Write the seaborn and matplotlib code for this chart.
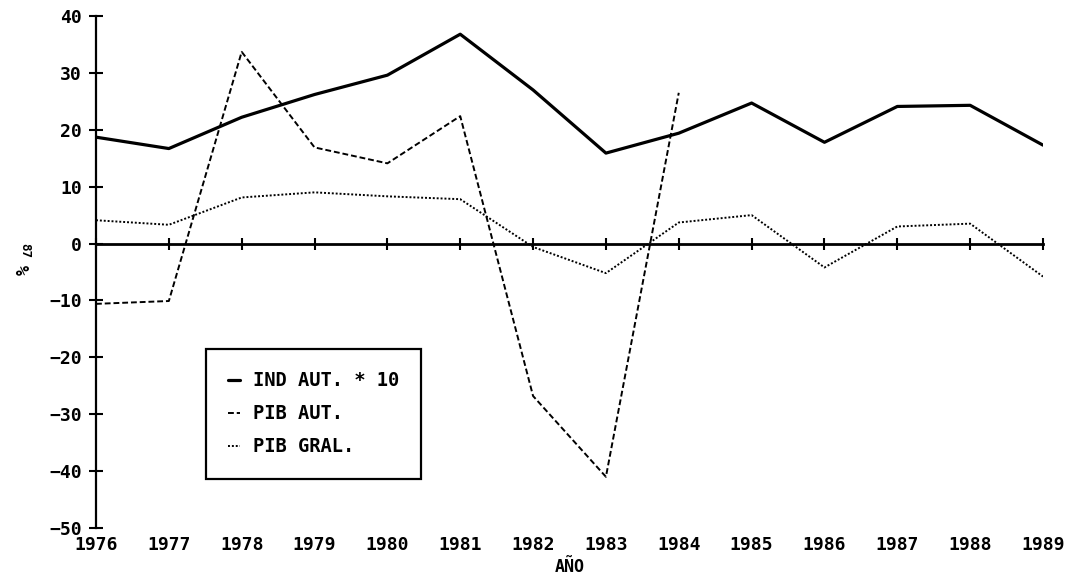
import pandas as pd
import matplotlib.pyplot as plt
import seaborn as sns

# Data
years = list(range(1976, 1990))
ind_aut_x10 = [18.7, 16.7, 22.2, 26.2, 29.6, 36.8, 27.0, 15.9, 19.4, 24.7, 17.8, 24.1, 24.3, 17.3]
pib_aut = [-10.6, -10.1, 33.7, 16.9, 14.1, 22.4, -26.8, -41.0, 26.5]
pib_gral = [4.1, 3.3, 8.1, 9.0, 8.3, 7.8, -0.6, -5.2, 3.7, 5.0, -4.2, 3.0, 3.5, -5.8]
yticks = list(range(-50, 41, 10))

df_ind = pd.DataFrame({'year': years, 'val': ind_aut_x10})
df_aut = pd.DataFrame({'year': years[:len(pib_aut)], 'val': pib_aut})
df_gral = pd.DataFrame({'year': years, 'val': pib_gral})

sns.set_style('white')
plt.rcParams['font.family'] = ['DejaVu Sans Mono', 'DejaVu Sans']
plt.rcParams['font.weight'] = 'bold'
plt.rcParams['text.color'] = 'black'
plt.rcParams['axes.edgecolor'] = 'black'
plt.rcParams['xtick.color'] = 'black'
plt.rcParams['ytick.color'] = 'black'
plt.rcParams['axes.labelcolor'] = 'black'

fig = plt.figure(figsize=(10.69, 5.79), dpi=100)
ax = fig.add_axes([96 / 1069, 51 / 579, 947 / 1069, 512 / 579])

sns.lineplot(data=df_ind, x='year', y='val', ax=ax, color='black', lw=2.3,
             label='IND AUT. * 10')
sns.lineplot(data=df_aut, x='year', y='val', ax=ax, color='black', lw=1.4,
             dashes=(3, 1.5), label='PIB AUT.')
sns.lineplot(data=df_gral, x='year', y='val', ax=ax, color='black', lw=1.4,
             dashes=(1, 1), label='PIB GRAL.')

ax.set_xlim(1976, 1989)
ax.set_ylim(-50, 40)
ax.set_yticks(yticks)
ax.set_xticks(years)

# axes: left spine + horizontal axis at zero
for s in ['top', 'right']:
    ax.spines[s].set_visible(False)
ax.spines['left'].set_linewidth(1.6)
ax.spines['bottom'].set_position(('data', 0))
ax.spines['bottom'].set_linewidth(2.0)
ax.tick_params(axis='y', direction='inout', length=10, width=1.5, pad=5,
               labelsize=13, left=True)
ax.tick_params(axis='x', direction='inout', length=9, width=1.5,
               labelbottom=False, bottom=True)
ax.set_xlabel('')
ax.set_ylabel('')

# year labels along the bottom
sec = ax.secondary_xaxis('bottom')
sec.set_xticks(years)
sec.spines['bottom'].set_visible(False)
sec.tick_params(length=0, pad=6, labelsize=13)
sec.set_xlabel('AÑO', fontsize=12, fontweight='bold', labelpad=3)

fig.text(25 / 1069, 1 - 270 / 579, '%', fontsize=12, fontweight='bold',
         ha='center', va='center', rotation=90)
fig.text(25 / 1069, 1 - 250 / 579, '87', fontsize=9, ha='center', va='center',
         rotation=270)

leg = ax.legend(loc='lower left', bbox_to_anchor=(0.116, 0.096), fontsize=13.5,
                handlelength=0.6, handletextpad=0.7, labelspacing=0.75,
                borderpad=1.2, borderaxespad=0, fancybox=False, framealpha=1)
leg.get_frame().set_edgecolor('black')
leg.get_frame().set_linewidth(1.6)

fig.savefig('out.png', dpi=100)
